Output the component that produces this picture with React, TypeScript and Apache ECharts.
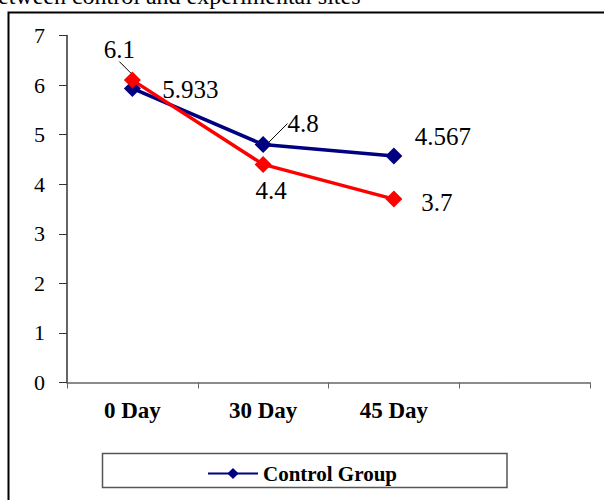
import React, { useEffect, useRef } from "react";
import * as echarts from "echarts";

const categories = ["0 Day", "30 Day", "45 Day", ""];
const controlValues = [5.933, 4.8, 4.567];
const experimentalValues = [6.1, 4.4, 3.7];
const yTicks = [0, 1, 2, 3, 4, 5, 6, 7];
const captionText = "etween control and experimental sites";
const legendName = "Control Group";

// label layout (offsets from each marker)
const controlLabelOffsets = [[58, 1], [40, -21], [49, -20]];
const controlLabelLines = [false, true, false];
const expLabelOffsets = [[-13, -31], [8, 26], [43, 3]];
const expLabelLines = [true, false, false];

const FONT = "'Liberation Serif', 'Times New Roman', serif";

export default function App() {
  const ref = useRef<HTMLDivElement>(null);
  useEffect(() => {
    if (!ref.current) return;
    const chart = echarts.init(ref.current, undefined, { renderer: "svg" });
    const mkData = (vals: number[], offs: number[][], lines: boolean[]) =>
      vals.map((v, i) => ({
        value: v,
        label: { offset: offs[i] },
        labelLine: { show: lines[i] },
      }));
    chart.setOption({
      animation: false,
      backgroundColor: "#ffffff",
      textStyle: { fontFamily: FONT },
      grid: { left: 67, right: 14, top: 35.5, bottom: 117.5, containLabel: false },
      legend: {
        show: true,
        data: [legendName],
        left: "center",
        top: 458,
        itemWidth: 50,
        itemHeight: 14,
        itemGap: 10,
        textStyle: { fontFamily: FONT, fontSize: 21, fontWeight: "bold", color: "#000" },
      },
      xAxis: {
        type: "category",
        data: categories,
        boundaryGap: true,
        axisLine: { lineStyle: { color: "#666", width: 1.5 } },
        axisTick: { show: true, length: 6, lineStyle: { color: "#666" } },
        axisLabel: {
          margin: 16,
          fontFamily: FONT,
          fontSize: 23,
          fontWeight: "bold",
          color: "#000",
        },
        splitLine: { show: false },
      },
      yAxis: {
        type: "value",
        min: yTicks[0],
        max: yTicks[yTicks.length - 1],
        interval: 1,
        axisLine: { show: true, lineStyle: { color: "#333", width: 1.5 } },
        axisTick: { show: true, length: 8, lineStyle: { color: "#333" } },
        axisLabel: { margin: 22, fontFamily: FONT, fontSize: 22, color: "#000" },
        splitLine: { show: false },
      },
      graphic: [
        {
          type: "text",
          left: -2,
          top: -16,
          style: {
            text: captionText,
            fontFamily: FONT,
            fontSize: 24,
            fill: "#000",
          },
          silent: true,
        },
        {
          type: "rect",
          shape: { x: 8.5, y: 12.5, width: 700, height: 600 },
          style: { fill: "none", stroke: "#000", lineWidth: 2 },
          silent: true,
          z: -10,
        },
        {
          type: "rect",
          shape: { x: 102.5, y: 453.5, width: 404.5, height: 34 },
          style: { fill: "none", stroke: "#555", lineWidth: 1.5 },
          silent: true,
          z: -10,
        },
      ],
      series: [
        {
          name: legendName,
          type: "line",
          data: mkData(controlValues, controlLabelOffsets, controlLabelLines),
          symbol: "diamond",
          symbolSize: 17,
          itemStyle: { color: "#000080" },
          lineStyle: { color: "#000080", width: 3.5 },
          label: {
            show: true,
            position: "inside",
            fontFamily: FONT,
            fontSize: 25,
            color: "#000",
            align: "center",
            verticalAlign: "middle",
          },
          labelLine: { show: true, lineStyle: { color: "#000", width: 1 } },
          z: 2,
        },
        {
          name: "Experimental Group",
          type: "line",
          data: mkData(experimentalValues, expLabelOffsets, expLabelLines),
          symbol: "diamond",
          symbolSize: 17,
          itemStyle: { color: "#ff0000" },
          lineStyle: { color: "#ff0000", width: 3.5 },
          label: {
            show: true,
            position: "inside",
            fontFamily: FONT,
            fontSize: 25,
            color: "#000",
            align: "center",
            verticalAlign: "middle",
          },
          labelLine: { show: true, lineStyle: { color: "#000", width: 1 } },
          z: 3,
        },
      ],
    });
    return () => chart.dispose();
  }, []);
  return (
    <div
      ref={ref}
      style={{ position: "absolute", left: 0, top: 0, width: 604, height: 500 }}
    />
  );
}
